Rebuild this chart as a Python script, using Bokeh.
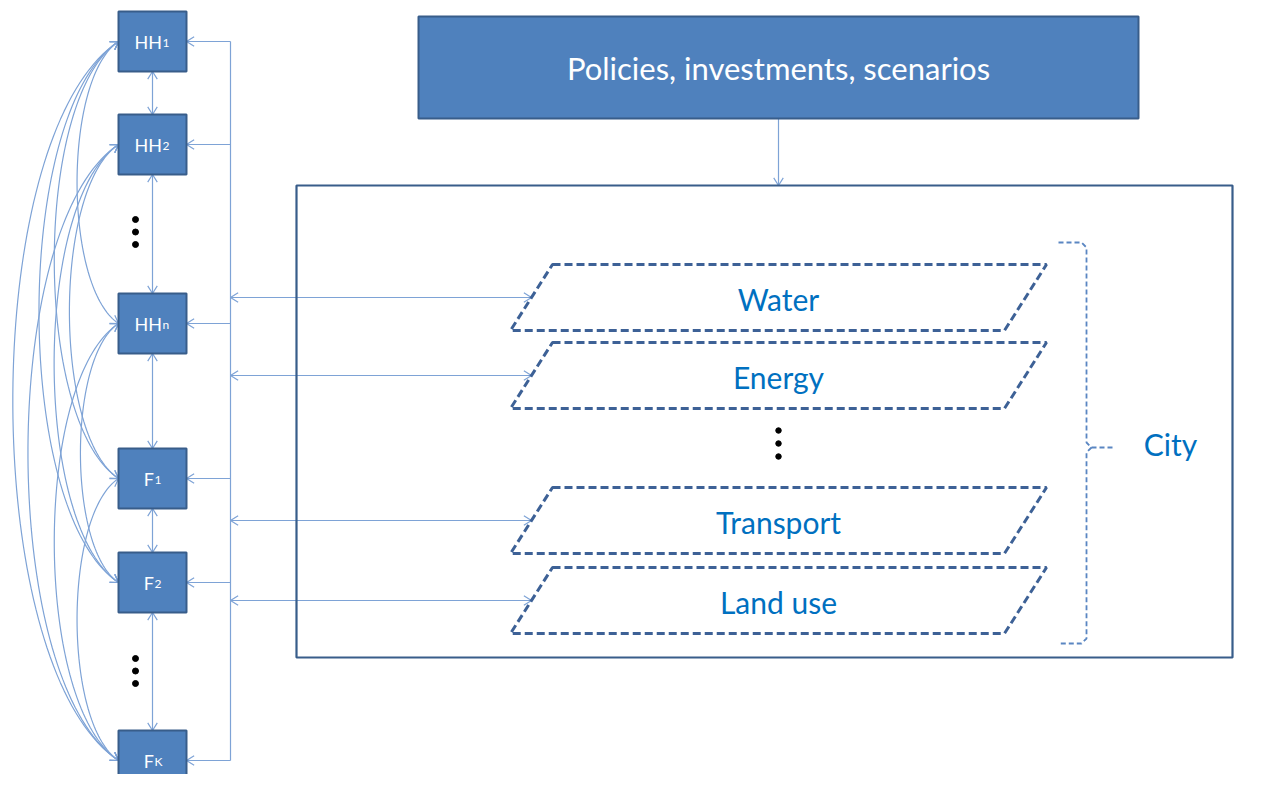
import numpy as np
from bokeh.plotting import figure
from bokeh.models import Range1d
from bokeh.embed import file_html
from bokeh.resources import INLINE
from bokeh.core.properties import value

# ---------------- data ----------------
node_main = ["HH", "HH", "HH", "F", "F", "F"]
node_sub = ["1", "2", "n", "1", "2", "K"]
node_cy = [41, 144, 323, 478, 582, 760]
node_main_w = {"HH": 26, "F": 10}

layer_names = ["Water", "Energy", "Transport", "Land use"]
layer_top = [264, 342, 487, 567]

title_text = "Policies, investments, scenarios"
city_label = "City"
left_dot_groups = [219, 658]       # first dot of each vertical ellipsis
center_dot_start = 430

# ---------------- layout constants ----------------
BOX_L, BOX_R, BOX_H = 118, 186, 60
BOX_CX = (BOX_L + BOX_R) / 2
BUS_X = 230
TOP_BOX = (418, 1138, 16, 118)
CITY_BOX = (296, 1232, 185, 657)
LAYER_X0, LAYER_X1, LAYER_SKEW, LAYER_H = 510, 1046, 42, 66
CENTER_X = 778

BOX_FILL = "#4F81BD"
BOX_LINE = "#385D8A"
ARROW_C = "#7EA3D6"
LAYER_C = "#3D6196"
TEXT_BLUE = "#0070C0"
FONT = value("Lato")

p = figure(width=1246, height=774, x_range=Range1d(0, 1246), y_range=Range1d(774, 0),
           output_backend="svg", toolbar_location=None,
           x_axis_location=None, y_axis_location=None, min_border=0)
p.grid.visible = False
p.outline_line_color = None
p.background_fill_color = "white"


def head(tip, d, L=9, ang=np.radians(32)):
    d = np.asarray(d, float)
    d = d / np.hypot(*d)
    pts = []
    for s in (1, -1):
        c, sn = np.cos(s * ang), np.sin(s * ang)
        r = np.array([c * d[0] - sn * d[1], sn * d[0] + c * d[1]])
        pts.append((tip[0] - L * r[0], tip[1] - L * r[1]))
    return [pts[0][0], tip[0], pts[1][0]], [pts[0][1], tip[1], pts[1][1]]


arrow_xs, arrow_ys = [], []


def add_line(xs, ys):
    arrow_xs.append(list(xs))
    arrow_ys.append(list(ys))


def add_head(tip, d):
    hx, hy = head(tip, d)
    add_line(hx, hy)


# ---- curves between every non-adjacent pair of nodes (left side) ----
t = np.linspace(0, 1, 80)
n = len(node_cy)
for i in range(n):
    for j in range(i + 2, n):
        yi, yj = node_cy[i], node_cy[j]
        span = yj - yi
        k = 0.196 * span
        P0 = np.array([BOX_L, yi]); P3 = np.array([BOX_L, yj])
        P1 = np.array([BOX_L - k, yi + 0.13 * span]); P2 = np.array([BOX_L - k, yj - 0.13 * span])
        B = ((1 - t) ** 3)[:, None] * P0 + (3 * (1 - t) ** 2 * t)[:, None] * P1 + \
            (3 * (1 - t) * t ** 2)[:, None] * P2 + (t ** 3)[:, None] * P3
        add_line(B[:, 0], B[:, 1])
        add_head(P0, P0 - P1)
        add_head(P3, P3 - P2)

# ---- vertical arrows between neighbours ----
for i in range(n - 1):
    y0 = node_cy[i] + BOX_H / 2
    y1 = node_cy[i + 1] - BOX_H / 2
    add_line([BOX_CX, BOX_CX], [y0, y1])
    add_head((BOX_CX, y0), (0, -1))
    add_head((BOX_CX, y1), (0, 1))

# ---- bus line and arrows to nodes ----
add_line([BUS_X, BUS_X], [node_cy[0], node_cy[-1]])
for cy in node_cy:
    add_line([BUS_X, BOX_R], [cy, cy])
    add_head((BOX_R, cy), (-1, 0))

# ---- double arrows bus <-> layers ----
for top in layer_top:
    cy = top + LAYER_H / 2
    tip_x = LAYER_X0 + (top + LAYER_H - cy) / LAYER_H * LAYER_SKEW
    add_line([BUS_X, tip_x], [cy, cy])
    add_head((BUS_X, cy), (-1, 0))
    add_head((tip_x, cy), (1, 0))

# ---- policies -> city ----
add_line([CENTER_X, CENTER_X], [TOP_BOX[3], CITY_BOX[2]])
add_head((CENTER_X, CITY_BOX[2]), (0, 1))

p.multi_line(arrow_xs, arrow_ys, line_color=ARROW_C, line_width=1.2)

# ---- node boxes ----
p.quad(left=[BOX_L] * n, right=[BOX_R] * n,
       top=[c - BOX_H / 2 for c in node_cy], bottom=[c + BOX_H / 2 for c in node_cy],
       fill_color=BOX_FILL, line_color=BOX_LINE, line_width=2)
main_x, sub_x = [], []
for m, s in zip(node_main, node_sub):
    total = node_main_w[m] + 7
    left = BOX_CX - total / 2
    main_x.append(left + node_main_w[m])
    sub_x.append(left + node_main_w[m] + 0.5)
p.text(x=main_x, y=[c for c in node_cy], text=node_main, text_font=FONT,
       text_font_size="18px", text_color="white", text_align="right", text_baseline="alphabetic")
p.text(x=sub_x, y=[c + 1 for c in node_cy], text=node_sub, text_font=FONT,
       text_font_size="12px", text_color="white", text_align="left", text_baseline="alphabetic")

# ---- ellipsis dots ----
dx, dy = [], []
for y0 in left_dot_groups:
    for q in range(3):
        dx.append(135); dy.append(y0 + 12.5 * q)
p.scatter(dx, dy, size=6, color="black")
p.scatter([CENTER_X] * 3, [center_dot_start + 13 * q for q in range(3)], size=5.5, color="black")

# ---- policies box ----
p.quad(left=[TOP_BOX[0]], right=[TOP_BOX[1]], top=[TOP_BOX[2]], bottom=[TOP_BOX[3]],
       fill_color=BOX_FILL, line_color=BOX_LINE, line_width=2)
p.text(x=[(TOP_BOX[0] + TOP_BOX[1]) / 2], y=[67], text=[title_text], text_font=FONT,
       text_font_size="31px", text_color="white", text_align="center", text_baseline="alphabetic")

# ---- city box ----
p.quad(left=[CITY_BOX[0]], right=[CITY_BOX[1]], top=[CITY_BOX[2]], bottom=[CITY_BOX[3]],
       fill_color="white", fill_alpha=0, line_color=BOX_LINE, line_width=2.2)

# ---- layers ----
lx, ly = [], []
for top in layer_top:
    lx.append([LAYER_X0 + LAYER_SKEW, LAYER_X1, LAYER_X1 - LAYER_SKEW, LAYER_X0])
    ly.append([top, top, top + LAYER_H, top + LAYER_H])
p.patches(lx, ly, fill_color=None, line_color=LAYER_C, line_width=3, line_dash="8 4")
p.text(x=[CENTER_X] * len(layer_names), y=[t0 + 34 for t0 in layer_top], text=layer_names,
       text_font=FONT, text_font_size="30px", text_color=TEXT_BLUE,
       text_align="center", text_baseline="alphabetic")

# ---- bracket ----
bx = [1058, 1081, 1086, 1086, 1091, 1086, 1086, 1081, 1058]
by = [242, 242, 247, 442, 447, 452, 638, 643, 643]
p.line(bx, by, line_color="#5A86C2", line_width=1.8, line_dash="5 3")
p.line([1091, 1113], [447, 447], line_color="#5A86C2", line_width=1.8, line_dash="5 3")
p.text(x=[1170], y=[443], text=[city_label], text_font=FONT, text_font_size="30px",
       text_color=TEXT_BLUE, text_align="center", text_baseline="alphabetic")

open("out.html", "w").write(file_html(p, INLINE))
